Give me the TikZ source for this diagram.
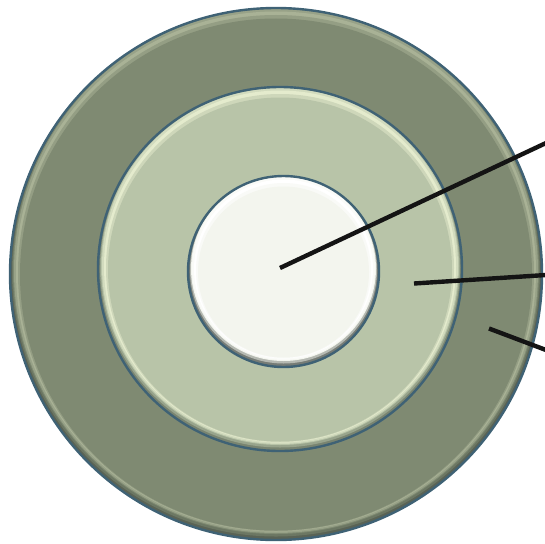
\documentclass[tikz,border=0pt]{standalone}
\usetikzlibrary{calc}
\definecolor{outerc}{HTML}{7F8A72}
\definecolor{outerdk}{HTML}{5A6355}
\definecolor{outerlt}{HTML}{A9B296}
\definecolor{midc}{HTML}{B8C4A8}
\definecolor{middk}{HTML}{798470}
\definecolor{midlt}{HTML}{E4EBCD}
\definecolor{innc}{HTML}{F3F5EE}
\definecolor{inndk}{HTML}{767C76}
\definecolor{innlt}{HTML}{FFFFFF}
\definecolor{rimc}{HTML}{3F6275}
\definecolor{leadc}{HTML}{141414}
\tikzset{
  rim/.style={draw=rimc, line width=2.4pt},
  leader/.style={draw=leadc, line width=4.4pt},
}
\newcommand{\bevelring}[6]{% x y r main dark light
  \begin{scope}
    \clip (#1,#2) circle[radius=#3];
    \fill[#5] (#1,#2) circle[radius=#3];
    \fill[#5!50!#4] ($(#1,#2)+(0,-1.5)$) circle[radius=#3-2];
    \fill[#4] ($(#1,#2)+(0,-3)$) circle[radius=#3-3];
    \fill[#6!60!#4] ($(#1,#2)+(0,-3)$) circle[radius=#3-4];
    \fill[#6] ($(#1,#2)+(0,-2.5)$) circle[radius=#3-6];
    \fill[#6!50!#4] ($(#1,#2)+(0,-1)$) circle[radius=#3-8];
    \fill[#4] ($(#1,#2)+(0,0.5)$) circle[radius=#3-10];
  \end{scope}
  \draw[rim] (#1,#2) circle[radius=#3];
}
\begin{document}
\begin{tikzpicture}[x=1pt,y=-1pt]
\useasboundingbox (0,0) rectangle (545,543);
\bevelring{276}{274}{266}{outerc}{outerdk}{outerlt}
\bevelring{280}{269}{182}{midc}{middk}{midlt}
\bevelring{283.5}{271.5}{95.5}{innc}{inndk}{innlt}
\coordinate (a1) at (280,268);
\coordinate (b1) at (546,143);
\coordinate (a2) at (414,283.5);
\coordinate (b2) at (546,275);
\coordinate (a3) at (489,328.5);
\coordinate (b3) at (546,350);
\draw[leader] (a1) -- (b1);
\draw[leader] (a2) -- (b2);
\draw[leader] (a3) -- (b3);
\end{tikzpicture}
\end{document}
